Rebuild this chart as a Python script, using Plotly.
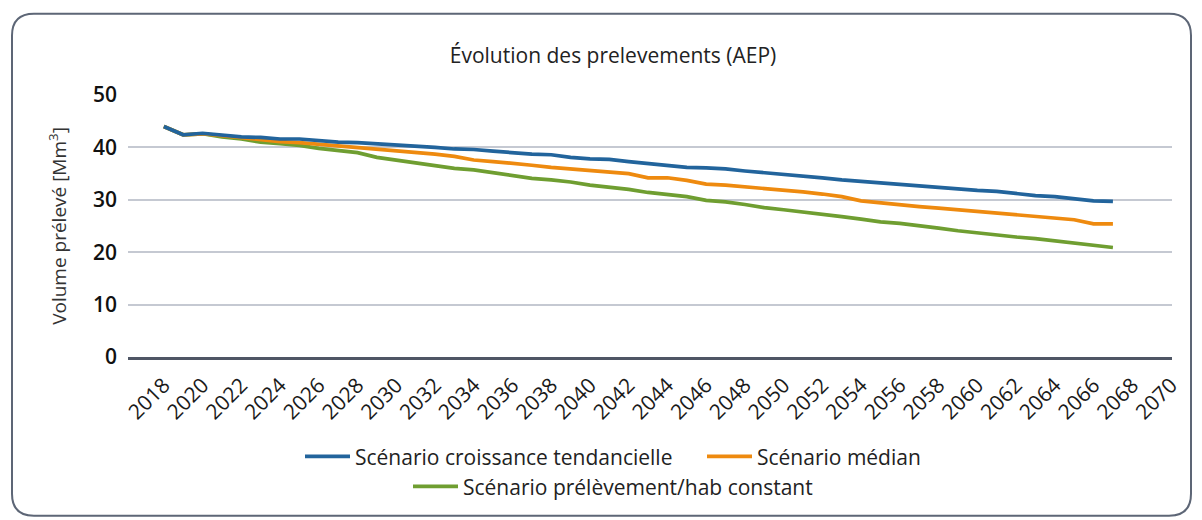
import plotly.graph_objects as go

# ---------------- data ----------------
years = list(range(2018, 2068))

croissance = [44.0, 42.4, 42.7, 42.3, 42.0, 41.9, 41.6, 41.6, 41.3, 41.0,
              40.9, 40.7, 40.4, 40.3, 40.0, 39.7, 39.6, 39.3, 39.0, 38.7,
              38.6, 38.1, 37.8, 37.7, 37.3, 36.9, 36.6, 36.2, 36.1, 35.9,
              35.5, 35.2, 34.9, 34.6, 34.2, 33.8, 33.5, 33.3, 33.0, 32.7,
              32.3, 32.0, 31.8, 31.6, 31.2, 30.8, 30.6, 30.2, 29.8, 29.7]

median = [44.0, 42.4, 42.6, 42.2, 41.9, 41.4, 41.1, 40.9, 40.6, 40.2,
          39.9, 39.6, 39.3, 39.0, 38.7, 38.3, 37.6, 37.3, 37.0, 36.6,
          36.2, 35.9, 35.5, 35.2, 35.0, 34.2, 34.2, 33.7, 33.0, 32.8,
          32.5, 32.2, 31.9, 31.5, 31.1, 30.6, 29.8, 29.4, 29.0, 28.7,
          28.4, 28.1, 27.8, 27.5, 27.2, 26.9, 26.5, 26.2, 25.4, 25.4]

constant = [44.0, 42.4, 42.6, 42.0, 41.6, 41.0, 40.7, 40.4, 39.8, 39.4,
            39.0, 38.1, 37.6, 37.0, 36.6, 36.0, 35.7, 35.2, 34.7, 34.1,
            33.8, 33.4, 32.8, 32.4, 32.0, 31.4, 31.0, 30.6, 29.9, 29.6,
            29.1, 28.5, 28.1, 27.7, 27.3, 26.8, 26.3, 25.8, 25.5, 25.1,
            24.6, 24.1, 23.7, 23.2, 22.9, 22.6, 22.2, 21.8, 21.4, 20.9]

tick_years = list(range(2018, 2071, 2))
y_ticks = [0, 10, 20, 30, 40, 50]

series_names = ["Scénario croissance tendancielle", "Scénario médian",
                "Scénario prélèvement/hab constant"]
colors = ["#22649c", "#ee8a0f", "#6f9e31"]

title_text = "Évolution des prelevements (AEP)"
y_title = "Volume prélevé [Mm<sup>3</sup>]"

# ---------------- layout geometry ----------------
W, H = 1202, 520
ML, MR, MT, MB = 128, 30, 94.5, 163
pw = W - ML - MR
ph = H - MT - MB


def px(x):
    return (x - ML) / pw


def py(y):
    return (H - MB - y) / ph


def cx(x):
    return x / W


FONT = "Open Sans"

fig = go.Figure()

# draw green, orange then blue (blue on top)
fig.add_trace(go.Scatter(x=years, y=constant, mode="lines", name=series_names[2],
                         line=dict(color=colors[2], width=3.7), legend="legend2"))
fig.add_trace(go.Scatter(x=years, y=median, mode="lines", name=series_names[1],
                         line=dict(color=colors[1], width=3.7), legendrank=2))
fig.add_trace(go.Scatter(x=years, y=croissance, mode="lines", name=series_names[0],
                         line=dict(color=colors[0], width=3.7), legendrank=1,
                         legendwidth=342))

# rounded border
x0, y0, x1, y1, r = 12, 13, 1191, 516, 22
path = (f"M {px(x0 + r)},{py(y0)} L {px(x1 - r)},{py(y0)} "
        f"Q {px(x1)},{py(y0)} {px(x1)},{py(y0 + r)} "
        f"L {px(x1)},{py(y1 - r)} Q {px(x1)},{py(y1)} {px(x1 - r)},{py(y1)} "
        f"L {px(x0 + r)},{py(y1)} Q {px(x0)},{py(y1)} {px(x0)},{py(y1 - r)} "
        f"L {px(x0)},{py(y0 + r)} Q {px(x0)},{py(y0)} {px(x0 + r)},{py(y0)} Z")
fig.add_shape(type="path", path=path, xref="paper", yref="paper",
              line=dict(color="#5d6676", width=2), layer="below")

fig.update_layout(
    width=W, height=H,
    margin=dict(l=ML, r=MR, t=MT, b=MB, autoexpand=False),
    paper_bgcolor="white", plot_bgcolor="white",
    font=dict(family=FONT, color="#222222"),
    title=dict(text=title_text, x=cx(613), xref="container", xanchor="center",
               y=1 - 56 / H, yref="container", yanchor="middle",
               font=dict(size=21, color="#222222")),
    xaxis=dict(range=[2016.15, 2070.05], tickmode="array", tickvals=tick_years,
               ticktext=[str(t) for t in tick_years], tickangle=-45,
               tickfont=dict(size=21, color="#1a1a1a"),
               ticklabelstandoff=5, automargin=False,
               showgrid=False, zeroline=False, showline=True,
               linecolor="#4f5665", linewidth=2.5, ticks=""),
    yaxis=dict(range=[0, 50], tickvals=y_ticks, showgrid=True,
               gridcolor="#c5c9d2", gridwidth=1.5, zeroline=False,
               tickfont=dict(size=21, color="#111111", weight=600),
               ticklabelstandoff=10, automargin=False,
               title=dict(text=y_title, font=dict(size=19, color="#333333"),
                          standoff=21)),
    legend=dict(orientation="h", x=px(300), xref="paper", xanchor="left",
                y=py(457), yanchor="middle", font=dict(size=21, color="#222222"),
                traceorder="normal", bgcolor="rgba(0,0,0,0)", itemwidth=45),
    legend2=dict(orientation="h", x=px(408), xref="paper", xanchor="left",
                 y=py(487), yanchor="middle", font=dict(size=21, color="#222222"),
                 bgcolor="rgba(0,0,0,0)", itemwidth=45),
    showlegend=True,
)

fig.write_html("out.html",
               config={"displayModeBar": False},
               post_script="document.body.style.margin='0';"
                           "document.body.style.overflow='hidden';")
